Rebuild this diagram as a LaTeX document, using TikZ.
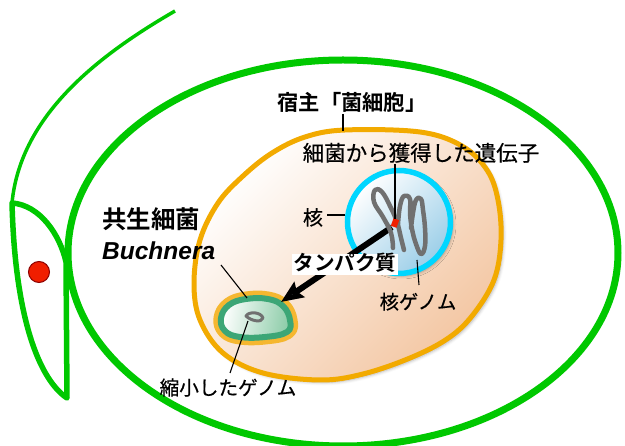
\documentclass[tikz,border=0pt]{standalone}
\usepackage{fontspec}
\setmainfont{Liberation Sans}
\newfontfamily\jp[FakeBold=0.5]{Noto Sans CJK JP}
\newfontfamily\jpb{Noto Sans CJK JP Bold}
\usetikzlibrary{arrows.meta,shadows.blur,calc}

\definecolor{leafgreen}{RGB}{0,200,0}
\definecolor{hostorange}{RGB}{242,170,0}
\definecolor{peach}{RGB}{243,198,162}
\definecolor{nucblue}{RGB}{0,214,255}
\definecolor{nucfill}{RGB}{155,206,232}
\definecolor{chromgray}{RGB}{112,112,112}
\definecolor{buchyellow}{RGB}{245,183,48}
\definecolor{buchgreen}{RGB}{60,166,118}
\definecolor{buchfill}{RGB}{140,204,168}
\definecolor{dotred}{RGB}{240,30,0}

\tikzset{
  insect/.style={draw=leafgreen, line join=round},
  leader/.style={draw=black, line width=1.1pt},
  chrom/.style={draw=chromgray, line width=4.5pt, line cap=round, line join=round},
  jplabel/.style={font=\jp\fontsize{#1}{#1}\selectfont, inner sep=0pt},
  jpbold/.style={font=\jpb\fontsize{#1}{#1}\selectfont, inner sep=0pt},
  softshadow/.style={blur shadow={shadow xshift=2.5pt, shadow yshift=-2.5pt,
      shadow blur radius=3pt, shadow opacity=30}},
}

\begin{document}
\begin{tikzpicture}[x=1pt, y=-1pt]
\useasboundingbox (0,0) rectangle (625,446);

% aphid body outline
\draw[insect, line width=7pt] (343,253) ellipse [x radius=275, y radius=193];
% head and antenna
\draw[insect, line width=5.5pt] (12,203) .. controls (40,205) and (60,235) .. (66,262)
  -- (67,398) .. controls (40,380) and (15,320) .. (12,203) -- cycle;
\draw[insect, line width=3.5pt] (175,11) .. controls (90,60) and (20,120) .. (12,203);
\node[circle, fill=dotred, draw=red!55!black, line width=1pt, minimum size=21pt,
      inner sep=0pt] (eye) at (39,272) {};

% bacteriocyte
\path[draw=hostorange, line width=5pt, top color=white, bottom color=peach,
      shading angle=45, softshadow]
  plot[smooth cycle, tension=0.6] coordinates {
    (345,130) (420,132) (462,146) (487,170) (498,200) (501,240) (494,280)
    (472,316) (447,339) (410,358) (363,374) (320,380) (263,373) (223,353)
    (200,320) (194,283) (200,240) (218,203) (243,176) (272,153) (305,137)};

% nucleus
\node[circle, draw=nucblue, line width=5.5pt, minimum size=103pt, inner sep=0pt,
      top color=white, bottom color=nucfill, shading angle=45, softshadow]
  (nuc) at (399,222) {};

% Buchnera cell
\path[draw=buchyellow, line width=15pt, line join=round, softshadow]
  plot[smooth cycle, tension=0.7] coordinates {
    (221,318) (229,305) (246,299) (268,299) (283,306) (290,320) (287,332)
    (265,337) (240,337) (225,331)};
\path[draw=buchgreen, line width=6pt, left color=white, right color=buchfill,
      shading angle=80]
  plot[smooth cycle, tension=0.7] coordinates {
    (221,318) (229,305) (246,299) (268,299) (283,306) (290,320) (287,332)
    (265,337) (240,337) (225,331)};
% reduced genome
\draw[draw=chromgray, line width=3pt, line join=round]
  (246,316) .. controls (249,311) and (261,312) .. (263,318)
  .. controls (262,323) and (251,321) .. (246,316) -- cycle;
\coordinate (buchgenome) at (248,321);
\coordinate (buchtip) at (281,302);

% nuclear genome and the acquired gene
\node[minimum width=6pt, minimum height=8pt, inner sep=0pt] (gene) at (395,223) {};
\draw[line width=6pt, -{Stealth[length=22pt, width=18pt, inset=3pt]}]
  (gene.south west) -- (buchtip);
\draw[chrom] plot[smooth, tension=0.7] coordinates {
  (393,248) (391,233) (383,217) (374,202) (375,190) (382,192) (390,206)
  (397,222) (401,238) (404,250)};
\draw[chrom] plot[smooth, tension=0.7] coordinates {
  (398,224) (400,206) (404,196) (410,199) (410,213) (412,229) (416,244)
  (421,254) (425,246) (425,228) (423,210) (421,199) (416,200) (413,213) (411,228)};
\fill[dotred, rotate around={-20:(gene.center)}]
  ($(gene.center)+(-3,-4)$) rectangle ($(gene.center)+(3,4)$);

% labels
\node[jpbold=21.3, anchor=base] (hostlabel) at (352,111) {宿主「菌細胞」};
\coordinate (hostfoot) at (343,114);
\coordinate (hostedge) at (343,131);
\draw[leader] (hostfoot) -- (hostedge);

\node[jplabel=21.5, anchor=base] (genelabel) at (421,161) {細菌から獲得した遺伝子};
\coordinate (genefoot) at (395,164);
\draw[leader] (genefoot) -- (gene.north);

\node[jplabel=20, anchor=base] (nuclabel) at (313,225) {核};
\coordinate (nucleader) at (327,215);
\draw[leader] (nucleader) -- (nucleader -| nuc.west);

\node[jplabel=19.3, anchor=base] (genomelabel) at (418,309) {核ゲノム};
\coordinate (genomefoot) at (419,285);
\coordinate (genometop) at (417,260);
\draw[leader] (genometop) -- (genomefoot);

\node[jpbold=20.6, fill=white, inner xsep=1.5pt, inner ysep=1.5pt,
      text height=15pt, text depth=3pt, anchor=base] (protein) at (345,271) {タンパク質};

\node[jpbold=24.5, anchor=base west] (symlabel) at (102,229) {共生細菌};
\node[font=\bfseries\itshape\fontsize{24.5}{24.5}\selectfont, inner sep=0pt,
      anchor=base west] (buchlabel) at (102,260) {Buchnera};
\coordinate (buchfoot) at (221,265);
\coordinate (buchedge) at (247,298);
\draw[leader] (buchfoot) -- (buchedge);

\node[jplabel=19.6, anchor=base] (reducedlabel) at (228,395) {縮小したゲノム};
\coordinate (reducedtop) at (230,373);
\draw[leader] (buchgenome) -- (reducedtop);
\end{tikzpicture}
\end{document}
